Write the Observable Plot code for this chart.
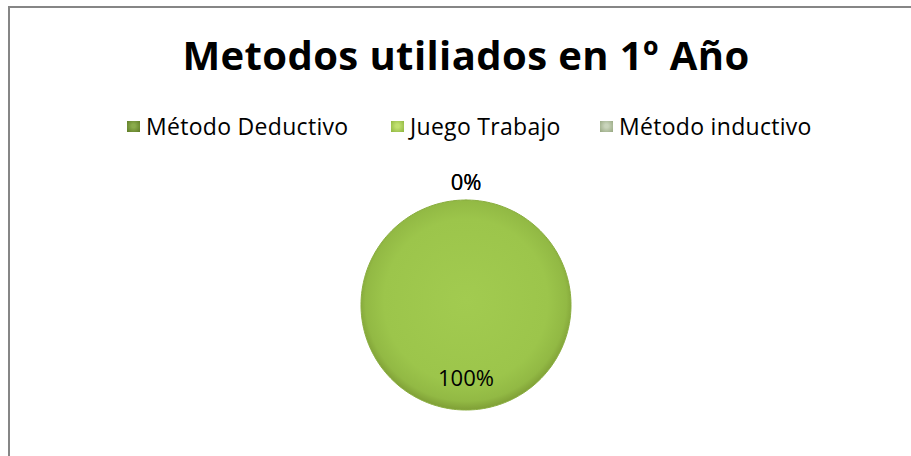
<!DOCTYPE html>
<html>
<head>
<meta charset="utf-8">
<script src="https://cdn.jsdelivr.net/npm/d3@7"></script>
<script src="https://cdn.jsdelivr.net/npm/@observablehq/plot@0.6"></script>
<style>
  html, body { margin: 0; padding: 0; background: #fff; width: 911px; height: 456px; overflow: hidden; }
  #frame { position: absolute; left: 8px; top: 6px; width: 940px; height: 480px; border-left: 2px solid #868686; border-top: 2px solid #868686; box-sizing: border-box; }
  #title { position: absolute; left: 0; top: 35px; width: 932px; text-align: center; font: bold 40px/40px "Open Sans", sans-serif; letter-spacing: 0.4px; color: #000; white-space: nowrap; }
  .leg { position: absolute; top: 115px; font: 23px/23px "Open Sans", sans-serif; letter-spacing: 0.3px; color: #000; white-space: nowrap; display: flex; align-items: center; }
  .sw { width: 13px; height: 11px; margin-right: 6px; box-sizing: border-box; }
  #chart { position: absolute; left: 0; top: 170px; }
</style>
</head>
<body>
<div id="frame"></div>
<div id="title"></div>
<div id="legend"></div>
<div id="chart"></div>
<script>
const title = "Metodos utiliados en 1º Año";
const categories = ["Método Deductivo", "Juego Trabajo", "Método inductivo"];
const values = [0, 100, 0];
const valueLabels = ["0%", "100%", "0%"];
const swatchColors = [
  ["#8aab4c", "#5d7a25"],
  ["#c0e070", "#8db43e"],
  ["#c9d4bb", "#95a67f"]
];
const legendLeft = [127, 391, 600];

document.getElementById("title").textContent = title;

const legend = document.getElementById("legend");
categories.forEach((c, i) => {
  const item = document.createElement("div");
  item.className = "leg";
  item.style.left = legendLeft[i] + "px";
  const sw = document.createElement("span");
  sw.className = "sw";
  sw.style.background = `radial-gradient(circle at 50% 45%, ${swatchColors[i][0]} 20%, ${swatchColors[i][1]} 100%)`;
  const t = document.createElement("span");
  t.textContent = c;
  item.appendChild(sw);
  item.appendChild(t);
  legend.appendChild(item);
});

// pie geometry from the data
const arcs = d3.pie().sort(null)(values);
const slicePts = [];
arcs.forEach((a, i) => {
  const span = a.endAngle - a.startAngle;
  if (span <= 0) return;
  const n = Math.max(2, Math.ceil(span / (2 * Math.PI) * 240));
  const full = span >= 2 * Math.PI - 1e-9;
  if (!full) slicePts.push({cat: categories[i], x: 0, y: 0});
  for (let k = 0; k <= n; k++) {
    const ang = a.startAngle + span * k / n;
    slicePts.push({cat: categories[i], x: Math.sin(ang), y: Math.cos(ang)});
  }
});
const labelPts = arcs.map((a, i) => {
  const mid = (a.startAngle + a.endAngle) / 2;
  const r = values[i] > 0 ? 0.70 : 1.16;
  return {x: r * Math.sin(mid), y: r * Math.cos(mid), text: valueLabels[i]};
});

const plot = Plot.plot({
  width: 911,
  height: 260,
  margin: 0,
  style: {fontFamily: "'Open Sans', sans-serif", background: "transparent", overflow: "visible"},
  x: {domain: [-1, 1], range: [360.5, 570.5], axis: null},
  y: {domain: [-1, 1], range: [239.5, 29.5], axis: null},
  marks: [
    Plot.line(slicePts, {x: "x", y: "y", z: "cat", fill: "url(#pieGrad)", stroke: "#8aae40", strokeWidth: 1, curve: "linear"}),
    Plot.text(labelPts, {x: "x", y: "y", text: "text", fontSize: 22, fill: "#000", textAnchor: "middle", lineAnchor: "middle"})
  ]
});
const ns = "http://www.w3.org/2000/svg";
const defs = document.createElementNS(ns, "defs");
defs.innerHTML = `
<radialGradient id="pieGrad" cx="50%" cy="48%" r="52%">
  <stop offset="0%" stop-color="#a2cb50"/>
  <stop offset="75%" stop-color="#9cc54b"/>
  <stop offset="92%" stop-color="#92b944"/>
  <stop offset="100%" stop-color="#7f9f36"/>
</radialGradient>`;
plot.insertBefore(defs, plot.firstChild);
document.getElementById("chart").appendChild(plot);
</script>
</body>
</html>
